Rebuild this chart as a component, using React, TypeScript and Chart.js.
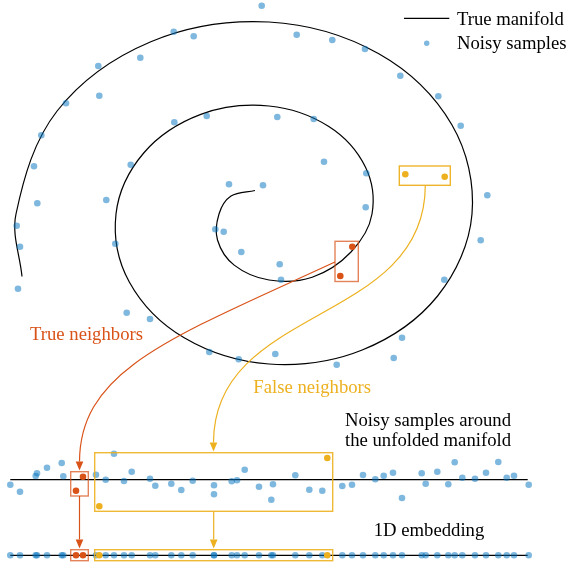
import { useEffect, useRef } from "react";
import { Chart, registerables } from "chart.js";

Chart.register(...registerables);

const W = 567;
const H = 563;

// True manifold (spiral) (pixel-like data units)
const manifoldX = [255, 231, 219, 217.5, 234.2, 269, 312.2, 351, 372, 365.4, 328.8, 269, 200.8, 143.7, 116, 129.3, 184.2, 269, 362.2, 437.6, 472, 452, 378.8, 269, 150.8, 57.1, 16, 22];
const manifoldY = [190.5, 196, 214, 240, 265.1, 280, 277.2, 252, 214, 167, 126.5, 106, 114.4, 153, 214, 282, 337.8, 364, 350, 296, 214, 125, 53.8, 22, 41.7, 111, 214, 276.5];

// Noisy samples around the spiral
const spiralSampleX = [261.7, 173.7, 193.7, 98.3, 140.3, 99.3, 66, 41.3, 34, 37.3, 16.7, 20, 18, 174.3, 206.7, 277.3, 130.7, 106.3, 115.3, 229, 263, 215.3, 223.7, 241.3, 279.7, 281, 296.7, 332.3, 365, 400.3, 438.3, 460.7, 487.3, 480.7, 444.3, 313.7, 324, 366.3, 365.7, 126.7, 150, 209.3, 238.7, 275.3, 402, 393.7, 336.7];
const spiralSampleY = [5.7, 31.7, 36.3, 66, 57.7, 95.7, 103.3, 135.3, 166.3, 203.3, 225.7, 246.7, 288.7, 122.3, 116, 117, 164.7, 200, 243.7, 184.3, 185.3, 229.3, 231.7, 252, 264.3, 279.7, 34.7, 40, 49, 75.7, 96.3, 125.7, 195.3, 240.3, 279.7, 119, 161.7, 173.3, 207.3, 312.7, 319, 352, 359.3, 354, 337.7, 358, 364.7];

// Highlighted samples on the spiral
const trueNbrSpiralX = [352.3, 340.3];
const trueNbrSpiralY = [246.7, 276];
const falseNbrSpiralX = [405.3, 444.7];
const falseNbrSpiralY = [174.3, 176.7];

// Noisy samples around the unfolded manifold
const unfoldedX = [10.3, 20, 35.7, 37, 47, 61.7, 63.3, 96, 105.7, 114, 124, 131.7, 150, 155.3, 171.3, 181.3, 192.7, 214, 214, 231.7, 237, 244.7, 259, 271.3, 273, 295.3, 309.3, 322.3, 342.3, 352, 363, 375.3, 383.7, 393, 402, 421.7, 425.7, 437.3, 448.3, 454.7, 462.3, 475, 486, 498.3, 506.7, 514, 528.7];
const unfoldedY = [484.7, 491.7, 476, 473.3, 467.7, 463, 476.3, 474.7, 479.7, 453.7, 481, 471.7, 478.7, 485.7, 483.7, 490, 480.7, 485.3, 494.3, 481.3, 480.3, 469.7, 486.7, 499.7, 484.3, 475.3, 489.7, 490.7, 486, 484.7, 475, 479.3, 475.7, 472.7, 498, 473.3, 483.7, 471.7, 484.3, 462.3, 477.7, 478.7, 472.7, 462, 477.7, 475.7, 484.7];
const trueNbrUnfoldedX = [83, 76];
const trueNbrUnfoldedY = [476.7, 490.7];
const falseNbrUnfoldedX = [99.3, 327.3];
const falseNbrUnfoldedY = [506.3, 458];

// Unfolded manifold line and 1D embedding line
const lineExtentX = [10.3, 527.7];
const unfoldedLineY = 479.7;
const embeddingLineY = 555.3;

const BLUE = "rgba(0,114,189,0.5)";
const ORANGE = "#D95319";
const YELLOW = "#EDB120";
const FONT = "18.7px 'Liberation Serif', 'Times New Roman', serif";

const pts = (xs: number[], ys: number[]) => xs.map((x, i) => ({ x, y: ys[i] }));
const onLine = (xs: number[], y: number) => xs.map((x) => ({ x, y }));

// Annotation geometry
const boxes = [
  { x0: 335, y0: 241.3, x1: 358.3, y1: 281.5, color: "rgba(217,83,25,0.72)" },
  { x0: 399.3, y0: 166, x1: 450.3, y1: 185.3, color: "rgba(237,177,32,0.95)" },
  { x0: 70.7, y0: 471.7, x1: 88.3, y1: 496, color: "rgba(217,83,25,0.72)" },
  { x0: 70.7, y0: 549.7, x1: 88.3, y1: 560.7, color: "rgba(217,83,25,0.72)" },
  { x0: 94.7, y0: 452.7, x1: 332.7, y1: 511.3, color: "rgba(237,177,32,0.9)" },
  { x0: 94.7, y0: 549.7, x1: 332.7, y1: 560.7, color: "rgba(237,177,32,0.9)" },
];
const curves = [
  { p: [335, 262, 170, 338, 80, 370, 79.5, 461.5], tip: [79.5, 470.5], color: ORANGE },
  { p: [425.3, 185.3, 425.3, 325, 213.5, 305, 213.5, 442.5], tip: [213.5, 451.5], color: YELLOW },
  { p: [79.5, 496, 79.5, 510, 79.5, 530, 79.5, 539.5], tip: [79.5, 548.5], color: ORANGE },
  { p: [213.7, 511.3, 213.7, 520, 213.7, 530, 213.7, 539.5], tip: [213.7, 548.5], color: YELLOW },
];
const labels = [
  { text: "True neighbors", x: 30, y: 340, color: ORANGE, align: "left" },
  { text: "False neighbors", x: 253.3, y: 392.6, color: YELLOW, align: "left" },
  { text: "Noisy samples around", x: 428, y: 425.7, color: "#000", align: "center" },
  { text: "the unfolded manifold", x: 428, y: 445.7, color: "#000", align: "center" },
  { text: "1D embedding", x: 429, y: 535.7, color: "#000", align: "center" },
];
const legendItems = [
  { text: "True manifold", kind: "line", y: 18.3, textY: 24.6 },
  { text: "Noisy samples", kind: "dot", y: 43.3, textY: 49 },
];

const annotationPlugin = {
  id: "annotations",
  afterDatasetsDraw(chart: any) {
    const ctx = chart.ctx as CanvasRenderingContext2D;
    const sx = chart.scales.x;
    const sy = chart.scales.y;
    const X = (v: number) => sx.getPixelForValue(v);
    const Y = (v: number) => sy.getPixelForValue(v);
    ctx.save();
    // boxes
    for (const b of boxes) {
      ctx.strokeStyle = b.color;
      ctx.lineWidth = 1.4;
      ctx.strokeRect(X(b.x0), Y(b.y0), X(b.x1) - X(b.x0), Y(b.y1) - Y(b.y0));
    }
    // curves with arrowheads
    for (const c of curves) {
      const p = c.p;
      ctx.strokeStyle = c.color;
      ctx.lineWidth = 1.2;
      ctx.beginPath();
      ctx.moveTo(X(p[0]), Y(p[1]));
      ctx.bezierCurveTo(X(p[2]), Y(p[3]), X(p[4]), Y(p[5]), X(p[6]), Y(p[7]));
      ctx.stroke();
      const tx = X(c.tip[0]);
      const ty = Y(c.tip[1]);
      const bx = X(p[6]);
      const by = Y(p[7]);
      const ang = Math.atan2(ty - by, tx - bx);
      const len = Math.hypot(tx - bx, ty - by);
      const hw = 3.8;
      ctx.fillStyle = c.color;
      ctx.beginPath();
      ctx.moveTo(tx, ty);
      ctx.lineTo(tx - len * Math.cos(ang) - hw * Math.sin(ang), ty - len * Math.sin(ang) + hw * Math.cos(ang));
      ctx.lineTo(tx - len * Math.cos(ang) + hw * Math.sin(ang), ty - len * Math.sin(ang) - hw * Math.cos(ang));
      ctx.closePath();
      ctx.fill();
    }
    // text labels
    ctx.font = FONT;
    ctx.textBaseline = "alphabetic";
    for (const l of labels) {
      ctx.fillStyle = l.color;
      ctx.textAlign = l.align as CanvasTextAlign;
      ctx.fillText(l.text, X(l.x), Y(l.y));
    }
    // legend
    ctx.textAlign = "left";
    for (const it of legendItems) {
      if (it.kind === "line") {
        ctx.strokeStyle = "#000";
        ctx.lineWidth = 1.2;
        ctx.beginPath();
        ctx.moveTo(X(404), Y(it.y));
        ctx.lineTo(X(449.3), Y(it.y));
        ctx.stroke();
      } else {
        ctx.fillStyle = BLUE;
        ctx.beginPath();
        ctx.arc(X(426.7), Y(it.y), 2.7, 0, Math.PI * 2);
        ctx.fill();
      }
      ctx.fillStyle = "#000";
      ctx.fillText(it.text, X(457), Y(it.textY));
    }
    ctx.restore();
  },
};

export default function App() {
  const canvasRef = useRef<HTMLCanvasElement | null>(null);

  useEffect(() => {
    if (!canvasRef.current) return;
    const dot = (color: string, order: number) => ({
      showLine: false,
      pointRadius: 3.3,
      pointBackgroundColor: color,
      pointBorderWidth: 0,
      borderWidth: 0,
      order,
      clip: false as any,
    });
    const line = {
      showLine: true,
      borderColor: "#000",
      borderWidth: 1.2,
      pointRadius: 0,
      fill: false,
      order: 10,
      clip: false as any,
    };
    const chart = new Chart(canvasRef.current, {
      type: "scatter",
      data: {
        datasets: [
          { label: "True manifold", data: pts(manifoldX, manifoldY), ...line, tension: 0.35 },
          { label: "Unfolded manifold", data: onLine(lineExtentX, unfoldedLineY), ...line, borderWidth: 1.3 },
          { label: "1D embedding", data: onLine(lineExtentX, embeddingLineY), ...line, borderWidth: 1.3 },
          { label: "Noisy samples", data: pts(spiralSampleX, spiralSampleY), ...dot(BLUE, 5) },
          { label: "Unfolded samples", data: pts(unfoldedX, unfoldedY), ...dot(BLUE, 5) },
          { label: "Embedded samples", data: onLine(unfoldedX, embeddingLineY), ...dot(BLUE, 5) },
          { label: "True neighbors (spiral)", data: pts(trueNbrSpiralX, trueNbrSpiralY), ...dot(ORANGE, 1) },
          { label: "True neighbors (unfolded)", data: pts(trueNbrUnfoldedX, trueNbrUnfoldedY), ...dot(ORANGE, 1) },
          { label: "True neighbors (embedded)", data: onLine(trueNbrUnfoldedX, embeddingLineY), ...dot(ORANGE, 1) },
          { label: "False neighbors (spiral)", data: pts(falseNbrSpiralX, falseNbrSpiralY), ...dot(YELLOW, 1) },
          { label: "False neighbors (unfolded)", data: pts(falseNbrUnfoldedX, falseNbrUnfoldedY), ...dot(YELLOW, 1) },
          { label: "False neighbors (embedded)", data: onLine(falseNbrUnfoldedX, embeddingLineY), ...dot(YELLOW, 1) },
        ] as any,
      },
      options: {
        animation: false,
        responsive: false,
        maintainAspectRatio: false,
        events: [],
        layout: { padding: 0, autoPadding: false },
        plugins: { legend: { display: false }, tooltip: { enabled: false } },
        scales: {
          x: { type: "linear", min: 0, max: W, display: false },
          y: { type: "linear", min: 0, max: H, reverse: true, display: false },
        },
      },
      plugins: [annotationPlugin],
    });
    return () => chart.destroy();
  }, []);

  return (
    <div style={{ position: "absolute", left: 0, top: 0, width: W, height: H, background: "#fff" }}>
      <canvas ref={canvasRef} width={W} height={H} style={{ width: W, height: H, display: "block" }} />
    </div>
  );
}
